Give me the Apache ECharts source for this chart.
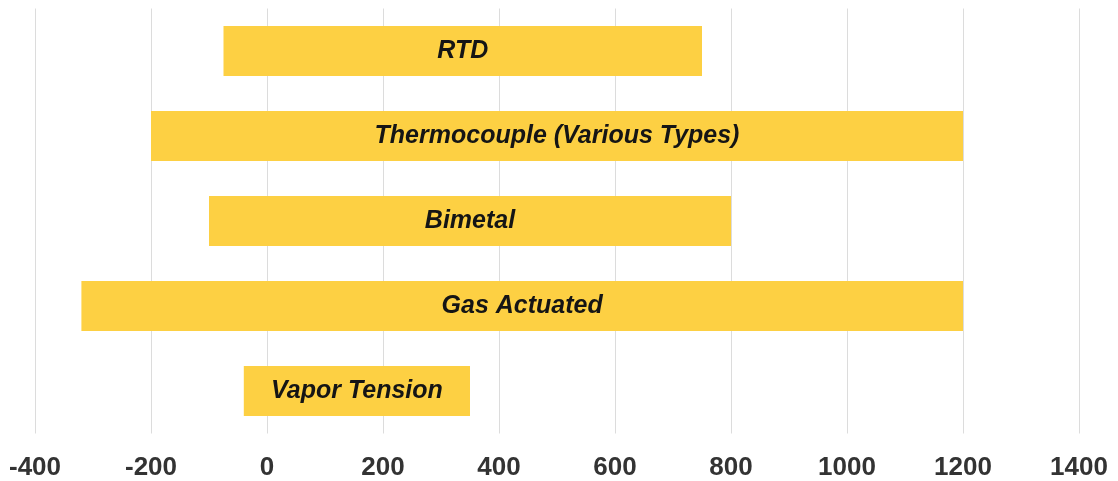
<!DOCTYPE html>
<html>
<head>
<meta charset="utf-8">
<script src="https://cdn.jsdelivr.net/npm/echarts@6/dist/echarts.min.js"></script>
<style>
html,body{margin:0;padding:0;background:#fff;}
#chart{width:1118px;height:481px;}
</style>
</head>
<body>
<div id="chart"></div>
<script>
const categories = ['RTD', 'Thermocouple (Various Types)', 'Bimetal', 'Gas Actuated', 'Vapor Tension'];
const rangeStart = [-75, -200, -100, -320, -40];
const rangeEnd = [750, 1200, 800, 1200, 350];
const xTicks = { min: -400, max: 1400, interval: 200 };

const chart = echarts.init(document.getElementById('chart'), null, { renderer: 'canvas' });
const data = categories.map((c, i) => [i, rangeStart[i], rangeEnd[i], c]);

chart.setOption({
  animation: false,
  backgroundColor: '#ffffff',
  grid: { left: 35, right: 39, top: 8.5, bottom: 47.5, containLabel: false },
  xAxis: {
    type: 'value',
    min: xTicks.min, max: xTicks.max, interval: xTicks.interval,
    axisLine: { show: false },
    axisTick: { show: false },
    splitLine: { show: true, lineStyle: { color: '#dcdcdc', width: 1 } },
    axisLabel: {
      margin: 21,
      color: '#333333',
      fontFamily: '"Liberation Sans", Arial, sans-serif',
      fontWeight: 'bold',
      fontSize: 26,
      formatter: function (v) { return String(v); }
    }
  },
  yAxis: {
    type: 'category',
    data: categories,
    inverse: true,
    axisLine: { show: false },
    axisTick: { show: false },
    axisLabel: { show: false },
    splitLine: { show: false }
  },
  series: [{
    type: 'custom',
    data: data,
    encode: { x: [1, 2], y: 0 },
    renderItem: function (params, api) {
      const cat = api.value(0);
      const s = api.coord([api.value(1), cat]);
      const e = api.coord([api.value(2), cat]);
      const band = api.size([0, 1])[1];
      const h = band * 0.59;
      return {
        type: 'rect',
        shape: { x: s[0], y: s[1] - h / 2, width: e[0] - s[0], height: h },
        style: { fill: '#FDD043' },
        textContent: {
          style: {
            text: categories[params.dataIndex],
            fill: '#151515',
            font: 'italic bold 25px "Liberation Sans", Arial, sans-serif'
          }
        },
        textConfig: { position: 'inside' }
      };
    }
  }]
});
</script>
</body>
</html>
